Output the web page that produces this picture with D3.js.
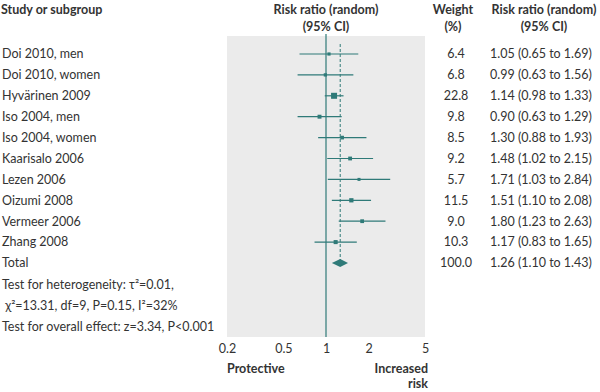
<!DOCTYPE html>
<html>
<head>
<meta charset="utf-8">
<script src="https://cdn.jsdelivr.net/npm/d3@7"></script>
<style>
  body { margin: 0; background: #fff; }
  svg text { font-family: Lato, "Open Sans", sans-serif; fill: #333; }
  .bold { font-weight: bold; }
</style>
</head>
<body>
<div class="container"></div>
<script>
// study rows
const studies = ["Doi 2010, men", "Doi 2010, women", "Hyvärinen 2009", "Iso 2004, men",
                 "Iso 2004, women", "Kaarisalo 2006", "Lezen 2006", "Oizumi 2008",
                 "Vermeer 2006", "Zhang 2008"];
const rr    = [1.05, 0.99, 1.14, 0.90, 1.30, 1.48, 1.71, 1.51, 1.80, 1.17];
const lower = [0.65, 0.63, 0.98, 0.63, 0.88, 1.02, 1.03, 1.10, 1.23, 0.83];
const upper = [1.69, 1.56, 1.33, 1.29, 1.93, 2.15, 2.84, 2.08, 2.63, 1.65];
const weights = [6.4, 6.8, 22.8, 9.8, 8.5, 9.2, 5.7, 11.5, 9.0, 10.3];
const total = {rr: 1.26, lower: 1.10, upper: 1.43, weight: 100.0};
const xTicks = [0.2, 0.5, 1, 2, 5];
const footLines = ["Test for heterogeneity: τ²=0.01,",
                   " χ²=13.31, df=9, P=0.15, I²=32%",
                   "Test for overall effect: z=3.34, P<0.001"];

const width = 600, height = 392;
const teal = "#2f7a78";
const svg = d3.select(".container")
              .append("svg")
              .attr("width", width)
              .attr("height", height);

const x = d3.scaleLog()
            .domain([0.2, 5])
            .range([227, 425]);
const rows = studies.concat(["Total"]);
const y = d3.scalePoint()
            .domain(rows)
            .range([54, 263]);
const size = d3.scaleSqrt()
               .domain([0, 22.8])
               .range([0, 3]);

// headers
svg.append("text").attr("class", "bold").attr("x", 1).attr("y", 14)
   .attr("font-size", 12.5).text("Study or subgroup");
[["Risk ratio (random)", "(95% CI)", 326], ["Weight", "(%)", 453], ["Risk ratio (random)", "(95% CI)", 544]]
  .forEach(h => {
    svg.append("text").attr("class", "bold").attr("x", h[2]).attr("y", 14)
       .attr("text-anchor", "middle").attr("font-size", 12.5).text(h[0]);
    svg.append("text").attr("class", "bold").attr("x", h[2]).attr("y", 31)
       .attr("text-anchor", "middle").attr("font-size", 12.5).text(h[1]);
  });

// panel
svg.append("rect")
   .attr("x", 227).attr("y", 36)
   .attr("width", 198).attr("height", 301)
   .attr("fill", "#ebebeb");

// reference line at 1 and pooled dashed line
svg.append("line")
   .attr("x1", x(1)).attr("x2", x(1))
   .attr("y1", 34).attr("y2", 337)
   .attr("stroke", teal).attr("stroke-width", 1.2);
svg.append("line")
   .attr("x1", x(total.rr)).attr("x2", x(total.rr))
   .attr("y1", 44).attr("y2", 263)
   .attr("stroke", teal).attr("stroke-width", 1)
   .attr("stroke-dasharray", "3,2");

// whiskers
svg.selectAll("line.ci")
   .data(studies)
   .join("line")
   .attr("class", "ci")
   .attr("x1", (d, i) => x(lower[i]))
   .attr("x2", (d, i) => x(upper[i]))
   .attr("y1", d => y(d)).attr("y2", d => y(d))
   .attr("stroke", teal).attr("stroke-width", 1.2);

// squares
svg.selectAll("rect.pt")
   .data(studies)
   .join("rect")
   .attr("class", "pt")
   .attr("x", (d, i) => x(rr[i]) - size(weights[i]))
   .attr("y", (d, i) => y(d) - size(weights[i]))
   .attr("width", (d, i) => 2 * size(weights[i]))
   .attr("height", (d, i) => 2 * size(weights[i]))
   .attr("fill", teal);

// pooled diamond
const ty = y("Total");
svg.append("path")
   .attr("d", `M${x(total.lower)},${ty} L${x(total.rr)},${ty - 4} L${x(total.upper)},${ty} L${x(total.rr)},${ty + 4} Z`)
   .attr("fill", teal);

// left labels
svg.selectAll("text.study")
   .data(rows)
   .join("text")
   .attr("class", "study")
   .attr("x", 2)
   .attr("y", d => y(d))
   .attr("dy", "0.35em")
   .attr("font-size", 12.5)
   .text(d => d);

footLines.forEach((t, i) => {
  svg.append("text").attr("x", 2).attr("y", 285 + i * 20.7)
     .attr("dy", "0.35em").attr("font-size", 12.5)
     .style("white-space", "pre").text(t);
});

// weights and CI text
const wAll = weights.concat([total.weight]);
const ciText = rr.map((v, i) => `${v.toFixed(2)} (${lower[i].toFixed(2)} to ${upper[i].toFixed(2)})`)
                 .concat([`${total.rr.toFixed(2)} (${total.lower.toFixed(2)} to ${total.upper.toFixed(2)})`]);
svg.selectAll("text.w")
   .data(rows)
   .join("text")
   .attr("class", "w")
   .attr("x", 456)
   .attr("y", d => y(d))
   .attr("dy", "0.35em")
   .attr("text-anchor", "middle")
   .attr("font-size", 12.5)
   .text((d, i) => wAll[i].toFixed(1));
svg.selectAll("text.ci")
   .data(rows)
   .join("text")
   .attr("class", "ci")
   .attr("x", 490)
   .attr("y", d => y(d))
   .attr("dy", "0.35em")
   .attr("font-size", 12.5)
   .text((d, i) => ciText[i]);

// axis
const axis = svg.append("g")
                .attr("transform", "translate(0,338)")
                .call(d3.axisBottom(x).tickValues(xTicks).tickFormat(d3.format("")).tickSize(0).tickPadding(6));
axis.select(".domain").remove();
axis.selectAll("text").attr("font-size", 12.5).style("font-family", "Lato, sans-serif").attr("fill", "#333");

svg.append("text").attr("class", "bold").attr("x", 227).attr("y", 373)
   .attr("font-size", 12.5).text("Protective");
svg.append("text").attr("class", "bold").attr("x", 428).attr("y", 373)
   .attr("text-anchor", "end").attr("font-size", 12.5).text("Increased");
svg.append("text").attr("class", "bold").attr("x", 428).attr("y", 388)
   .attr("text-anchor", "end").attr("font-size", 12.5).text("risk");
</script>
</body>
</html>
